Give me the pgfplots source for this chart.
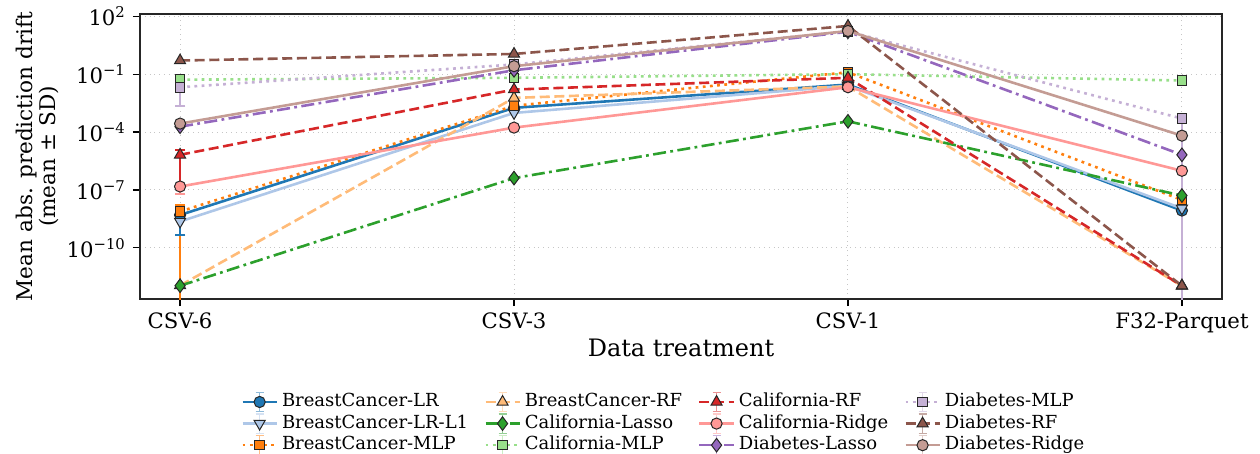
\documentclass[border=0pt]{standalone}
\usepackage{fontspec}
\setmainfont{DejaVu Serif}
\usepackage{pgfplots}
\pgfplotsset{compat=1.18}

\definecolor{cB}{HTML}{1F77B4}
\definecolor{cBl}{HTML}{AEC7E8}
\definecolor{cO}{HTML}{FF7F0E}
\definecolor{cOl}{HTML}{FFBB78}
\definecolor{cG}{HTML}{2CA02C}
\definecolor{cGl}{HTML}{98DF8A}
\definecolor{cR}{HTML}{D62728}
\definecolor{cRl}{HTML}{FF9896}
\definecolor{cP}{HTML}{9467BD}
\definecolor{cPl}{HTML}{C5B0D5}
\definecolor{cN}{HTML}{8C564B}
\definecolor{cNl}{HTML}{C49C94}

\tikzset{
  mpldash/.style={dash pattern=on 5pt off 2.3pt},
  mpldot/.style={dash pattern=on 1.4pt off 2.2pt},
  mpldashdot/.style={dash pattern=on 6.5pt off 2.2pt on 1.4pt off 2.2pt},
}

\begin{document}
\begin{tikzpicture}
\begin{axis}[
    name=ax,
    scale only axis,
    width=541pt, height=142.5pt,
    ymode=log,
    ymin=2.2e-13, ymax=132,
    xmin=-0.12, xmax=3.12,
    xtick={0,1,2,3},
    xticklabels={CSV-6,CSV-3,CSV-1,F32-Parquet},
    ytick={1e2,1e-1,1e-4,1e-7,1e-10},
    yticklabels={10\textsuperscript{2},10\textsuperscript{−1},10\textsuperscript{−4},10\textsuperscript{−7},10\textsuperscript{−10}},
    yminorticks=false,
    tick align=outside,
    xtick pos=bottom, ytick pos=left,
    major tick length=3.5pt,
    tick style={black, line width=0.6pt},
    axis line style={line width=0.8pt, black!85},
    grid=major,
    grid style={dotted, line width=0.5pt, gray!45},
    ticklabel style={font=\fontsize{10.6}{12}\selectfont},
    xlabel={Data treatment},
    ylabel={Mean abs. prediction drift\\(mean ± SD)},
    xlabel style={font=\fontsize{12}{13.5}\selectfont, at={(axis description cs:0.5,0)}, anchor=base, yshift=-28.8pt},
    ylabel style={font=\fontsize{10.8}{11.5}\selectfont, at={(axis description cs:0,0.5)}, anchor=center, align=center, yshift=51.5pt},
    legend columns=3,
    transpose legend,
    legend style={
        at={(0.485,-0.315)}, anchor=north, draw=none,
        font=\fontsize{9}{10}\selectfont,
        inner sep=1pt,
        nodes={inner ysep=0.8pt, inner xsep=2pt, text height=7pt, text depth=2.2pt},
        /tikz/every even column/.append style={column sep=6pt},
    },
    legend cell align=left,
    every axis plot/.append style={line width=1.3pt},
    legend image code/.code={
        \draw[solid, line width=0.7pt, opacity=0.5]
            (0.3cm,-0.17cm) -- (0.3cm,0.17cm)
            (0.23cm,0.17cm) -- (0.37cm,0.17cm)
            (0.23cm,-0.17cm) -- (0.37cm,-0.17cm);
        \draw[mark repeat=2, mark phase=2]
            plot coordinates {(0cm,0cm) (0.3cm,0cm) (0.6cm,0cm)};
    },
]

% error bars (visible ones)
\addplot[forget plot, cR, line width=0.9pt] coordinates {(0,1.2e-5) (0,1.6e-7)};
\addplot[forget plot, cR, line width=0.9pt, only marks, mark=-, mark size=2.6pt] coordinates {(0,1.2e-5)};
\addplot[forget plot, cRl, line width=0.9pt] coordinates {(0,3.0e-7) (0,6.3e-8)};
\addplot[forget plot, cRl, line width=0.9pt, only marks, mark=-, mark size=2.6pt] coordinates {(0,6.3e-8)};
\addplot[forget plot, cO, line width=0.9pt] coordinates {(0,1.65e-8) (0,1e-14)};
\addplot[forget plot, cO, line width=0.9pt, only marks, mark=-, mark size=2.6pt] coordinates {(0,1.65e-8)};
\addplot[forget plot, cB, line width=0.9pt] coordinates {(0,1.0e-8) (0,4.6e-10)};
\addplot[forget plot, cB, line width=0.9pt, only marks, mark=-, mark size=2.6pt] coordinates {(0,4.6e-10)};
\addplot[forget plot, cPl, line width=0.9pt] coordinates {(0,4.5e-2) (0,2.2e-3)};
\addplot[forget plot, cPl, line width=0.9pt, only marks, mark=-, mark size=2.6pt] coordinates {(0,2.2e-3)};
\addplot[forget plot, cPl, line width=0.9pt] coordinates {(3,1.0e-3) (3,1e-14)};

% BreastCancer-LR
\addplot[cB, solid, mark=*, mark size=2.8pt, mark options={solid, fill=cB, draw=black!85, line width=0.5pt}]
  coordinates {(0,5.0e-9) (1,1.8e-3) (2,2.9e-2) (3,8.5e-9)};
\addlegendentry{BreastCancer-LR}
% BreastCancer-LR-L1
\addplot[cBl, solid, mark=triangle*, mark size=3.2pt, mark options={solid, rotate=180, fill=cBl, draw=black!85, line width=0.5pt}]
  coordinates {(0,2.3e-9) (1,9.8e-4) (2,2.5e-2) (3,1.1e-8)};
\addlegendentry{BreastCancer-LR-L1}
% BreastCancer-MLP
\addplot[cO, mpldot, mark=square*, mark size=2.4pt, mark options={solid, fill=cO, draw=black!85, line width=0.5pt}]
  coordinates {(0,7.6e-9) (1,2.3e-3) (2,1.26e-1) (3,3.0e-8)};
\addlegendentry{BreastCancer-MLP}
% BreastCancer-RF
\addplot[cOl, mpldash, mark=triangle*, mark size=3.2pt, mark options={solid, fill=cOl, draw=black!85, line width=0.5pt}]
  coordinates {(0,1.1e-12) (1,5.9e-3) (2,2.3e-2) (3,1.05e-12)};
\addlegendentry{BreastCancer-RF}
% California-Lasso
\addplot[cG, mpldashdot, mark=diamond*, mark size=3.4pt, mark options={solid, fill=cG, draw=black!85, line width=0.5pt}]
  coordinates {(0,1.07e-12) (1,4.1e-7) (2,3.6e-4) (3,5.1e-8)};
\addlegendentry{California-Lasso}
% California-MLP
\addplot[cGl, mpldot, mark=square*, mark size=2.4pt, mark options={solid, fill=cGl, draw=black!85, line width=0.5pt}]
  coordinates {(0,5.2e-2) (1,6.5e-2) (2,1.0e-1) (3,4.7e-2)};
\addlegendentry{California-MLP}
% California-RF
\addplot[cR, mpldash, mark=triangle*, mark size=3.2pt, mark options={solid, fill=cR, draw=black!85, line width=0.5pt}]
  coordinates {(0,6.6e-6) (1,1.6e-2) (2,6.5e-2) (3,1.07e-12)};
\addlegendentry{California-RF}
% California-Ridge
\addplot[cRl, solid, mark=*, mark size=2.8pt, mark options={solid, fill=cRl, draw=black!85, line width=0.5pt}]
  coordinates {(0,1.5e-7) (1,1.7e-4) (2,2.1e-2) (3,9.8e-7)};
\addlegendentry{California-Ridge}
% Diabetes-Lasso
\addplot[cP, mpldashdot, mark=diamond*, mark size=3.4pt, mark options={solid, fill=cP, draw=black!85, line width=0.5pt}]
  coordinates {(0,1.9e-4) (1,1.6e-1) (2,15.8) (3,6.6e-6)};
\addlegendentry{Diabetes-Lasso}
% Diabetes-MLP
\addplot[cPl, mpldot, mark=square*, mark size=2.4pt, mark options={solid, fill=cPl, draw=black!85, line width=0.5pt}]
  coordinates {(0,2.1e-2) (1,3.2e-1) (2,16.6) (3,5.0e-4)};
\addlegendentry{Diabetes-MLP}
% Diabetes-RF
\addplot[cN, mpldash, mark=triangle*, mark size=3.2pt, mark options={solid, fill=cN, draw=black!85, line width=0.5pt}]
  coordinates {(0,5.1e-1) (1,1.12) (2,31.6) (3,1.07e-12)};
\addlegendentry{Diabetes-RF}
% Diabetes-Ridge
\addplot[cNl, solid, mark=*, mark size=2.8pt, mark options={solid, fill=cNl, draw=black!85, line width=0.5pt}]
  coordinates {(0,2.75e-4) (1,2.6e-1) (2,17.4) (3,6.5e-5)};
\addlegendentry{Diabetes-Ridge}

\end{axis}
\pgfresetboundingbox
\path ([shift={(-70pt,-77pt)}]ax.south west) rectangle ([shift={(19pt,7pt)}]ax.north east);
\end{tikzpicture}
\end{document}
